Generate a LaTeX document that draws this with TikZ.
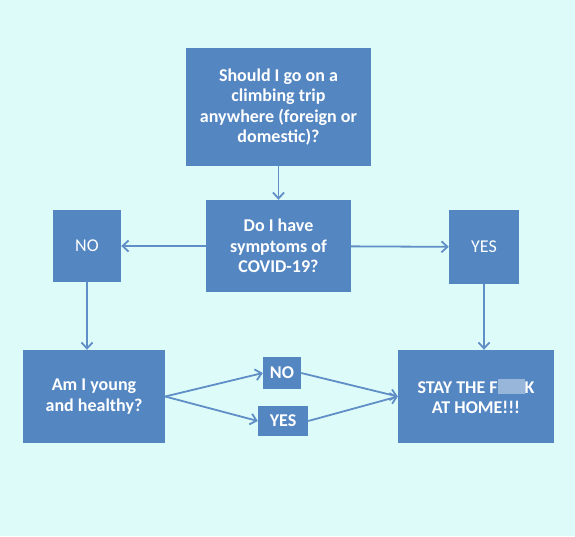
\documentclass[tikz,border=0pt]{standalone}
\usepackage{fontspec}
\setmainfont{Carlito}
\usepackage{xcolor}
\usetikzlibrary{arrows.meta, positioning}
\definecolor{flowbg}{RGB}{221,252,249}
\definecolor{flowblue}{RGB}{84,134,194}
\definecolor{flowline}{RGB}{96,142,198}

\begin{document}
\begin{tikzpicture}[x=1pt, y=-1pt,
  qbox/.style={draw=none, fill=flowblue, text=white, align=center,
               font=\fontsize{18}{20.5}\selectfont\bfseries, inner sep=2pt},
  ansbox/.style={qbox, font=\fontsize{18}{20.5}\selectfont},
  tagbox/.style={qbox, minimum height=31pt},
  flow/.style={flowline, line width=1.8pt, -{Straight Barb[length=6pt, width=11pt]}}]

%% background and frame
\fill[flowbg] (0,0) rectangle (575,536);
\useasboundingbox (0,0) rectangle (575,536);

%% question boxes
\node[qbox, minimum width=185pt, minimum height=118pt] (trip)  at (278.5,107)
  {Should I go on a\\climbing trip\\anywhere (foreign or\\domestic)?};
\node[qbox, minimum width=145pt, minimum height=92pt]  (covid) at (278.5,246)
  {Do I have\\symptoms of\\COVID-19?};
\node[ansbox, minimum width=68pt, minimum height=72pt] (no1)   at (87,246)  {NO};
\node[ansbox, minimum width=70pt, minimum height=74pt] (yes1)  at (484,247) {YES};
\node[qbox, minimum width=142pt, minimum height=93pt]  (young) at (94,396.5)
  {Am I young\\and healthy?};
\node[qbox, minimum width=156pt, minimum height=93pt]  (stay)  at (476,396.5)
  {STAY THE F\textcolor{white!40!flowblue}{\rule[-0.1ex]{1.5em}{1.7ex}}K\\AT HOME!!!};
\node[tagbox, minimum width=38pt, minimum height=32pt] (no2)  at (282,373) {NO};
\node[tagbox, minimum width=50pt, minimum height=30pt] (yes2) at (283,421) {YES};

%% connectors
\draw[flow] (trip) -- (covid);
\draw[flow] (covid) -- (no1);
\draw[flow] (covid) -- (yes1);
\draw[flow] (no1.south) -- (no1.south |- young.north);
\draw[flow] (yes1.south) -- (yes1.south |- stay.north);
\draw[flow] (young.east) -- (no2.west);
\draw[flow] (young.east) -- (yes2.west);
\draw[flow] (no2.east) -- (stay.west);
\draw[flow] (yes2.east) -- (stay.west);
\end{tikzpicture}
\end{document}
